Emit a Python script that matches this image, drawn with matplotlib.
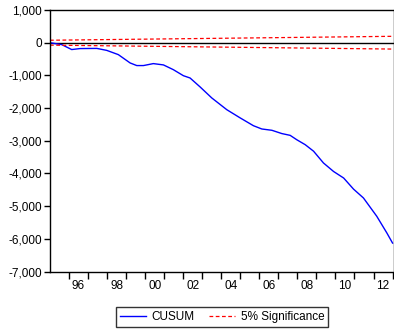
import matplotlib
matplotlib.use('Agg')
import matplotlib.pyplot as plt
import numpy as np

plt.rcParams['font.family'] = ['Liberation Sans', 'DejaVu Sans']

# CUSUM path (year, value)
years = [1995.0, 1995.09, 1995.62, 1996.14, 1996.58, 1997.46, 1997.98, 1998.59,
         1999.21, 1999.56, 1999.91, 2000.43, 2000.96, 2001.48, 2002.01, 2002.36,
         2002.89, 2003.50, 2004.29, 2004.99, 2005.69, 2006.13, 2006.66, 2007.18,
         2007.62, 2007.97, 2008.41, 2008.85, 2009.37, 2009.90, 2010.43, 2010.95,
         2011.47, 2012.17, 2012.70, 2013.0]
cusum = [0, -10, -60, -210, -180, -175, -235, -365,
         -620, -700, -700, -640, -680, -825, -1010, -1080,
         -1355, -1690, -2050, -2300, -2540, -2640, -2680, -2780,
         -2835, -2970, -3120, -3320, -3680, -3940, -4140, -4480,
         -4750, -5310, -5820, -6130]

# 5% significance bands (straight lines)
sig_years = [1995.0, 2013.0]
sig_upper = [75, 195]
sig_lower = [-75, -195]

yticks = list(range(-7000, 1001, 1000))
xlabel_years = list(range(1996, 2013, 2))

fig = plt.figure(figsize=(3.94, 3.32), dpi=100)
ax = fig.add_axes([50 / 394, 60.5 / 332, 343.5 / 394, 261.5 / 332])

ax.axhline(0, color='black', lw=1.0)
ax.plot(years, cusum, color='#0000ff', lw=1.0, label='CUSUM')
ax.plot(sig_years, sig_upper, color='#ff0000', lw=0.9, ls=(0, (3, 2)), label='5% Significance')
ax.plot(sig_years, sig_lower, color='#ff0000', lw=0.9, ls=(0, (3, 2)))

ax.set_xlim(1995.0, 2013.05)
ax.set_ylim(-7000, 1000)

ax.set_yticks(yticks)
ax.set_yticklabels([f'{v:,}' for v in yticks])

# ticks at year boundaries, labels centred in the year
ax.set_xticks(np.arange(1996, 2014))
ax.set_xticklabels([])
ax.set_xticks([y + 0.5 for y in xlabel_years], minor=True)
ax.set_xticklabels([f'{y % 100:02d}' for y in xlabel_years], minor=True)
ax.tick_params(axis='x', which='minor', length=0, pad=6, labelsize=8.5)
ax.tick_params(axis='x', which='major', direction='out', length=5, width=1)
ax.tick_params(axis='y', direction='out', length=4, width=1, labelsize=8.5, pad=2)

for s in ax.spines.values():
    s.set_linewidth(1.0)

fig.legend(loc='center', bbox_to_anchor=(222 / 394, 1 - 317 / 332), ncol=2,
           frameon=True, fancybox=False, edgecolor='black', fontsize=8.5,
           handlelength=2.2, columnspacing=1.2, borderpad=0.35, handletextpad=0.5)

fig.savefig('out.png', dpi=100)
